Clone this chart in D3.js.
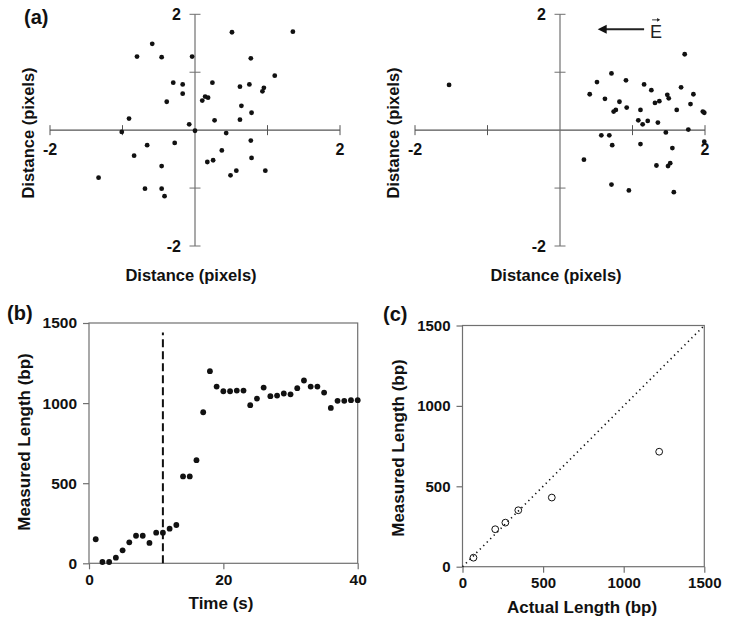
<!DOCTYPE html>
<html>
<head>
<meta charset="utf-8">
<script src="https://cdn.jsdelivr.net/npm/d3@7"></script>
<style>
  html, body { margin: 0; padding: 0; background: #fff; }
  svg { display: block; }
  text { font-family: "Liberation Sans", Arial, sans-serif; }
</style>
</head>
<body>
<svg id="chart" width="729" height="627"></svg>
<script>
// ---------- DATA ----------
// Panel (a) left: no field
const noFieldX = [0.51, 1.35, -0.59, -0.80, -0.46, -0.04, 0.77, 1.10, -0.30, -0.17, 0.24, 0.62, 0.75, 0.95, 0.93,
  -0.17, 0.14, 0.18, 0.10, -0.39, 0.64, 0.78, -0.91, 0.27, 0.62, -0.08, 0.00, -1.01, 0.43, -0.66, -0.28, 0.77,
  -0.84, 0.37, -0.46, 0.17, 0.25, 0.78, -1.33, 0.57, 0.49, 0.97, -0.69, -0.46, -0.42];
const noFieldY = [1.69, 1.70, 1.49, 1.27, 1.26, 1.27, 1.24, 0.94, 0.82, 0.79, 0.82, 0.75, 0.79, 0.73, 0.67,
  0.63, 0.58, 0.56, 0.51, 0.49, 0.42, 0.30, 0.20, 0.17, 0.18, 0.10, -0.01, -0.03, -0.05, -0.26, -0.22, -0.18,
  -0.44, -0.35, -0.62, -0.55, -0.52, -0.48, -0.82, -0.70, -0.78, -0.70, -1.01, -1.01, -1.14];
// Panel (a) right: with field E
const fieldX = [-1.53, 1.72, 0.71, 0.51, 0.91, 1.16, 0.41, 1.26, 1.67, 1.84, 0.62, 0.82, 1.48, 1.50, 1.37,
  1.31, 1.80, 0.77, 0.74, 0.92, 1.11, 1.61, 1.97, 1.99, 1.08, 1.21, 1.14, 1.35, 1.77, 1.46, 0.57, 0.68,
  0.72, 1.11, 1.55, 1.99, 0.33, 1.33, 1.49, 1.52, 0.71, 0.95, 1.57];
const fieldY = [0.78, 1.31, 0.98, 0.83, 0.86, 0.79, 0.62, 0.69, 0.74, 0.62, 0.54, 0.49, 0.61, 0.55, 0.50,
  0.47, 0.45, 0.35, 0.32, 0.39, 0.35, 0.35, 0.32, 0.30, 0.17, 0.16, 0.10, 0.13, 0.01, -0.04, -0.09, -0.09,
  -0.26, -0.24, -0.31, -0.20, -0.51, -0.61, -0.62, -0.57, -0.94, -1.04, -1.07];
const scatterTicks = [-2, -1, 1, 2];
const scatterLabelTicks = [-2, 2];
const arrowFrom = [1.16, 1.74];
const arrowTo = [0.52, 1.74];

// Panel (b)
const timeS = [1,2,3,4,5,6,7,8,9,10,11,12,13,14,15,16,17,18,19,20,21,22,23,24,25,26,27,28,29,30,31,32,33,34,35,36,37,38,39,40];
const measuredOverTime = [150, 8, 8, 35, 81, 131, 172, 172, 127, 191, 191, 216, 239, 542, 542, 644, 943, 1199, 1103, 1074,
  1074, 1078, 1078, 987, 1028, 1097, 1043, 1047, 1060, 1055, 1093, 1141, 1103, 1103, 1066, 970, 1014, 1014, 1018, 1018];
const fieldOnTime = 11;
const fieldLineRange = [0, 1440];
const timeTicks = [0, 20, 40];
const lengthTicks = [0, 500, 1000, 1500];

// Panel (c)
const actualLength = [68, 203, 266, 346, 554, 1220];
const measuredLength = [56, 233, 274, 351, 430, 715];
const identityLine = [0, 1500];

// ---------- DRAW ----------
const svg = d3.select("#chart");
const FONT = "Liberation Sans, Arial, sans-serif";
const axisColor = "#707070";

function panelLabel(txt, x, y) {
  svg.append("text").attr("x", x).attr("y", y).attr("font-size", 20).attr("font-weight", "bold")
    .attr("fill", "#111").text(txt);
}

// Scatter (a) panels
function scatterPanel(offsetX, xs, ys, withArrow) {
  const x = d3.scaleLinear().domain([-2, 2]).range([50 + offsetX, 340 + offsetX]);
  const y = d3.scaleLinear().domain([-2, 2]).range([246, 14.3]);
  const g = svg.append("g");
  g.append("line").attr("x1", x(-2)).attr("x2", x(2)).attr("y1", y(0)).attr("y2", y(0))
    .attr("stroke", "#555").attr("stroke-width", 1.2);
  g.append("line").attr("x1", x(0)).attr("x2", x(0)).attr("y1", y(2)).attr("y2", y(-2))
    .attr("stroke", axisColor).attr("stroke-width", 1.2);
  g.selectAll(".tx").data(scatterTicks).join("line")
    .attr("x1", d => x(d)).attr("x2", d => x(d)).attr("y1", y(0) - 5).attr("y2", y(0) + 5)
    .attr("stroke", "#555").attr("stroke-width", 1);
  g.selectAll(".ty").data(scatterTicks).join("line")
    .attr("x1", x(0) - 5.5).attr("x2", x(0) + 5.5).attr("y1", d => y(d)).attr("y2", d => y(d))
    .attr("stroke", axisColor).attr("stroke-width", 1);
  g.selectAll(".lx").data(scatterLabelTicks).join("text")
    .attr("x", d => x(d)).attr("y", y(0) + 25).attr("text-anchor", "middle")
    .attr("font-size", 16).attr("font-weight", "bold").attr("fill", "#111").text(d => d);
  g.selectAll(".ly").data(scatterLabelTicks).join("text")
    .attr("x", x(0) - 14).attr("y", d => y(d) + 6).attr("text-anchor", "end")
    .attr("font-size", 16).attr("font-weight", "bold").attr("fill", "#111").text(d => d);
  g.selectAll("circle").data(xs.map((v, i) => [v, ys[i]])).join("circle")
    .attr("cx", d => x(d[0])).attr("cy", d => y(d[1])).attr("r", 2.4).attr("fill", "#111");
  g.append("text").attr("x", x(0) - 4).attr("y", 281).attr("text-anchor", "middle")
    .attr("font-size", 16.5).attr("font-weight", "bold").attr("fill", "#111").text("Distance (pixels)");
  g.append("text").attr("transform", `translate(${offsetX + 34},133) rotate(-90)`).attr("text-anchor", "middle")
    .attr("font-size", 16.5).attr("font-weight", "bold").attr("fill", "#111").text("Distance (pixels)");
  if (withArrow) {
    const ax1 = x(arrowFrom[0]), ax2 = x(arrowTo[0]), ay = y(arrowFrom[1]);
    g.append("line").attr("x1", ax1).attr("x2", ax2 + 8).attr("y1", ay).attr("y2", ay)
      .attr("stroke", "#222").attr("stroke-width", 2);
    g.append("path").attr("d", `M${ax2},${ay} L${ax2 + 9},${ay - 4.5} L${ax2 + 9},${ay + 4.5} Z`).attr("fill", "#111");
    const ex = ax1 + 6;
    g.append("text").attr("x", ex).attr("y", ay + 8.5).attr("font-size", 18).attr("fill", "#222").text("E");
    g.append("line").attr("x1", ex + 2).attr("x2", ex + 9).attr("y1", ay - 9.5).attr("y2", ay - 9.5)
      .attr("stroke", "#222").attr("stroke-width", 0.9);
    g.append("path").attr("d", `M${ex + 10},${ay - 9.5} L${ex + 7},${ay - 11.3} L${ex + 7},${ay - 7.7} Z`).attr("fill", "#222");
  }
}
scatterPanel(0, noFieldX, noFieldY, false);
scatterPanel(365, fieldX, fieldY, true);
panelLabel("(a)", 24, 24);

// Framed panels b & c
function framedAxes(x, y, xTicks, yTicks, fs) {
  const [x0, x1] = x.range();
  const [y0, y1] = y.range();
  const g = svg.append("g");
  g.append("rect").attr("x", x0).attr("y", y1).attr("width", x1 - x0).attr("height", y0 - y1)
    .attr("fill", "none").attr("stroke", axisColor).attr("stroke-width", 1.2);
  const fmt = d3.format("d");
  const ax = g.append("g").attr("transform", `translate(0,${y0})`)
    .call(d3.axisBottom(x).tickValues(xTicks).tickFormat(fmt).tickSize(6).tickSizeOuter(0).tickPadding(5));
  const ay = g.append("g").attr("transform", `translate(${x0},0)`)
    .call(d3.axisLeft(y).tickValues(yTicks).tickFormat(fmt).tickSize(6).tickSizeOuter(0).tickPadding(6));
  [ax, ay].forEach(a => {
    a.select(".domain").remove();
    a.selectAll("line").attr("stroke", axisColor).attr("stroke-width", 1.2);
    a.selectAll("text").attr("font-family", FONT).attr("font-size", fs).attr("font-weight", "bold").attr("fill", "#111");
  });
  return g;
}

// Panel (b)
{
  const x = d3.scaleLinear().domain([0, 40]).range([89, 357.7]);
  const y = d3.scaleLinear().domain([0, 1500]).range([563.3, 323]);
  const g = framedAxes(x, y, timeTicks, lengthTicks, 15.5);
  g.append("line").attr("x1", x(fieldOnTime)).attr("x2", x(fieldOnTime))
    .attr("y1", y(fieldLineRange[0])).attr("y2", y(fieldLineRange[1]))
    .attr("stroke", "#111").attr("stroke-width", 2).attr("stroke-dasharray", "8,4");
  g.selectAll("circle.p").data(timeS.map((t, i) => [t, measuredOverTime[i]])).join("circle")
    .attr("cx", d => x(d[0])).attr("cy", d => y(d[1])).attr("r", 2.9).attr("fill", "#111");
  g.append("text").attr("x", 221).attr("y", 609).attr("text-anchor", "middle")
    .attr("font-size", 17).attr("font-weight", "bold").attr("fill", "#111").text("Time (s)");
  g.append("text").attr("transform", "translate(30,442) rotate(-90)").attr("text-anchor", "middle")
    .attr("font-size", 17).attr("font-weight", "bold").attr("fill", "#111").text("Measured Length (bp)");
  panelLabel("(b)", 7, 320);
}

// Panel (c)
{
  const x = d3.scaleLinear().domain([0, 1500]).range([462.5, 704.3]);
  const y = d3.scaleLinear().domain([0, 1500]).range([566.7, 325.5]);
  const g = framedAxes(x, y, lengthTicks, lengthTicks, 15);
  g.append("line").attr("x1", x(identityLine[0])).attr("y1", y(identityLine[0]))
    .attr("x2", x(identityLine[1])).attr("y2", y(identityLine[1]))
    .attr("stroke", "#111").attr("stroke-width", 1.6).attr("stroke-dasharray", "1.3,3.6");
  g.selectAll("circle.p").data(actualLength.map((a, i) => [a, measuredLength[i]])).join("circle")
    .attr("cx", d => x(d[0])).attr("cy", d => y(d[1])).attr("r", 3.4)
    .attr("fill", "none").attr("stroke", "#111").attr("stroke-width", 1);
  g.append("text").attr("x", 582).attr("y", 613).attr("text-anchor", "middle")
    .attr("font-size", 17).attr("font-weight", "bold").attr("fill", "#111").text("Actual Length (bp)");
  g.append("text").attr("transform", "translate(404,448) rotate(-90)").attr("text-anchor", "middle")
    .attr("font-size", 17).attr("font-weight", "bold").attr("fill", "#111").text("Measured Length (bp)");
  panelLabel("(c)", 383, 321);
}
</script>
</body>
</html>
